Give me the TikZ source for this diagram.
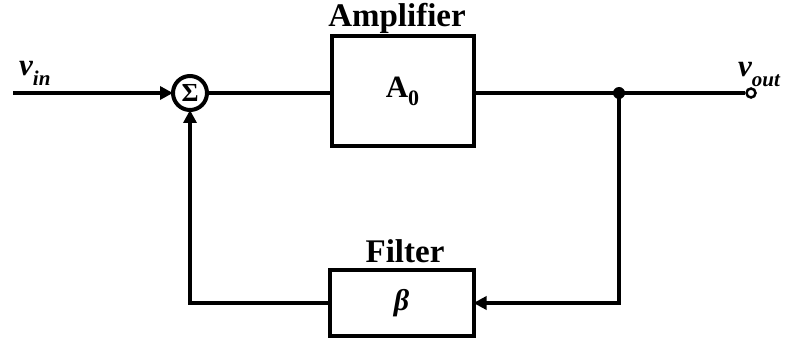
\documentclass[tikz,border=0pt]{standalone}
\usepackage{fontspec}
\setmainfont{Liberation Serif}
\usetikzlibrary{arrows.meta}
\tikzset{
  wire/.style={line width=4pt},
  arr/.style={wire,-{Triangle[length=13pt,width=13pt]}},
  blk/.style={draw,line width=4pt,inner sep=0pt,outer sep=0pt},
  lbl/.style={inner sep=0pt,font=\bfseries\fontsize{33}{33}\selectfont},
  sig/.style={inner sep=0pt,font=\bfseries\itshape\fontsize{31}{31}\selectfont},
}
\newcommand{\subsig}[1]{\raisebox{-0.3em}{\fontsize{21}{21}\selectfont #1}}
\begin{document}
\begin{tikzpicture}[x=1pt,y=-1pt]
\useasboundingbox (0,0) rectangle (787,342);
% blocks
\node[blk,circle,minimum size=34pt] (sum) at (190,93) {\fontsize{26}{26}\selectfont\bfseries Σ};
\node[blk,minimum width=142pt,minimum height=110pt] (amp) at (402.5,91.5) {\fontsize{31}{31}\selectfont\bfseries A\raisebox{-0.25em}{\fontsize{22}{22}\selectfont 0}};
\node[blk,minimum width=144pt,minimum height=66pt] (filt) at (401.5,303) {\fontsize{30}{30}\selectfont\bfseries\itshape β};
\node[lbl,anchor=base] (amplbl) at (397,27) {Amplifier};
\node[lbl,anchor=base] (filtlbl) at (405,262) {Filter};
% points
\coordinate (in) at (13,93);
\node[circle,fill,inner sep=0pt,minimum size=12pt] (dot) at (619,93) {};
\node[circle,draw,fill=white,line width=2.5pt,inner sep=0pt,minimum size=9pt] (out) at (751,93) {};
\coordinate (cr) at (619,303);
\coordinate (cl) at (190,303);
% labels
\node[sig,anchor=base west] (vin) at (19,76) {v\subsig{in}};
\node[sig,anchor=base west] (vout) at (738,77) {v\subsig{out}};
% connectors
\draw[arr] (in) -- (sum.west);
\draw[wire] (sum.east) -- (amp.west|-sum.east);
\draw[wire] (amp.east|-dot) -- (dot.center) -- (out.west);
\draw[arr] (dot.center) -- (cr) -- (filt.east|-cr);
\draw[arr] (filt.west) -- (cl) -- (sum.south);
\end{tikzpicture}
\end{document}
